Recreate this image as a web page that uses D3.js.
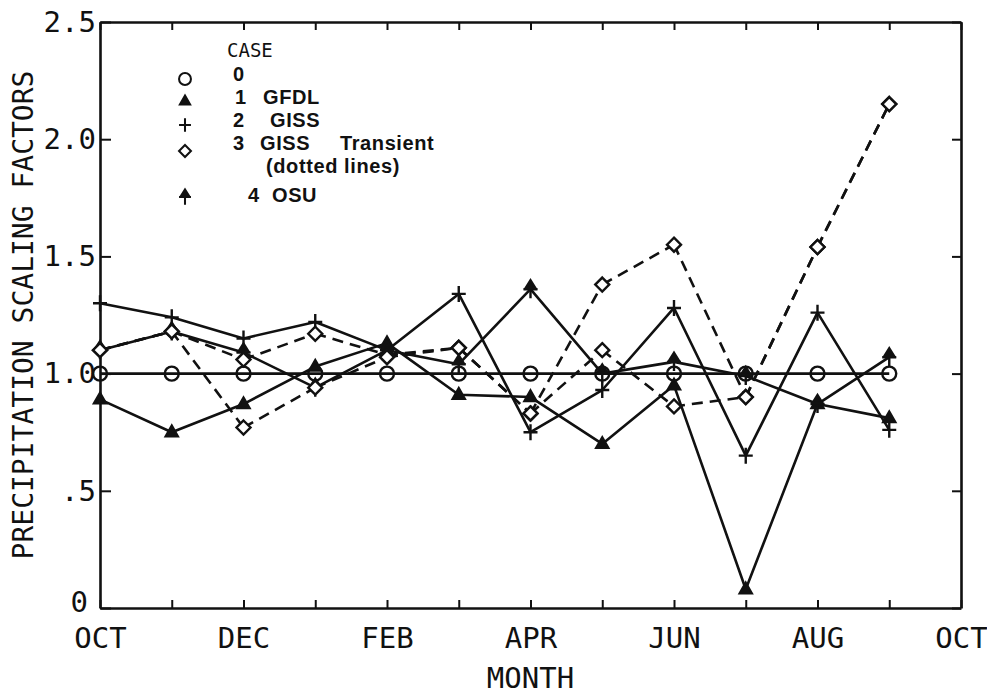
<!DOCTYPE html>
<html>
<head>
<meta charset="utf-8">
<script src="https://cdn.jsdelivr.net/npm/d3@7"></script>
<style>
  body { margin: 0; background: #fff; }
  svg { display: block; }
</style>
</head>
<body>
<svg id="chart" width="987" height="696"></svg>
<script>
// Month slots along the x axis (water year, October through September)
const months = ["OCT", "NOV", "DEC", "JAN", "FEB", "MAR", "APR", "MAY", "JUN", "JUL", "AUG", "SEP"];
const monthTickLabels = ["OCT", "DEC", "FEB", "APR", "JUN", "AUG", "OCT"];
const yTickValues = [0, 0.5, 1.0, 1.5, 2.0, 2.5];
const yTickLabels = ["0", ".5", "1.0", "1.5", "2.0", "2.5"];

// Monthly precipitation scaling factors by case
const case0Base     = [1.00, 1.00, 1.00, 1.00, 1.00, 1.00, 1.00, 1.00, 1.00, 1.00, 1.00, 1.00];
const case1Gfdl     = [0.89, 0.75, 0.87, 1.03, 1.13, 0.91, 0.90, 0.70, 0.95, 0.08, 0.87, 0.81];
const case2Giss     = [1.30, 1.24, 1.15, 1.22, 1.10, 1.34, 0.75, 0.93, 1.28, 0.65, 1.26, 0.76];
const case3TransA   = [1.10, 1.18, 0.77, 0.94, 1.07, 1.11, 0.83, 1.38, 1.55, 0.90, 1.54, 2.15];
const case3TransB   = [1.10, 1.18, 1.06, 1.17, 1.08, 1.11, 0.83, 1.10, 0.86, 0.90, 1.54, 2.15];
const case4Osu      = [1.10, 1.18, 1.09, 0.94, 1.10, 1.04, 1.36, 1.00, 1.05, 0.99, 0.87, 1.07];

const legendRows = [
  { num: "0", name: "",     marker: "circle" },
  { num: "1", name: "GFDL", marker: "triangle" },
  { num: "2", name: "GISS", marker: "plus" },
  { num: "3", name: "GISS", marker: "diamond" },
  { num: "4", name: "OSU",  marker: "osu" }
];

const series = [
  { values: case0Base,   marker: "circle",   dashed: false },
  { values: case1Gfdl,   marker: "triangle", dashed: false },
  { values: case2Giss,   marker: "plus",     dashed: false },
  { values: case4Osu,    marker: "osu",      dashed: false },
  { values: case3TransB, marker: "diamond",  dashed: true },
  { values: case3TransA, marker: "diamond",  dashed: true }
];

const svg = d3.select("#chart");
const plot = { left: 100, right: 961, top: 22, bottom: 608 };
const ink = "#111";
const monoFont = "'DejaVu Sans Mono', 'Liberation Mono', monospace";
const legendFont = "'Liberation Sans', Arial, sans-serif";

const x = d3.scaleLinear().domain([0, 12]).range([plot.left, plot.right]);
const y = d3.scaleLinear().domain([0, 2.5]).range([plot.bottom, plot.top]);

// ---- axes ----
function styleAxis(g) {
  g.select(".domain").attr("stroke", ink).attr("stroke-width", 2.6);
  g.selectAll(".tick line").attr("stroke", ink).attr("stroke-width", 2);
  g.selectAll(".tick text")
    .attr("fill", ink)
    .style("font-family", monoFont)
    .style("font-size", "29px");
}

svg.append("g")
  .attr("transform", `translate(0,${plot.bottom})`)
  .call(d3.axisBottom(x)
    .tickValues(d3.range(0, 13))
    .tickSizeInner(-8).tickSizeOuter(0).tickPadding(19)
    .tickFormat(d => d % 2 === 0 ? monthTickLabels[d / 2] : ""))
  .call(styleAxis);

svg.append("g")
  .attr("transform", `translate(0,${plot.top})`)
  .call(d3.axisTop(x)
    .tickValues(d3.range(0, 13))
    .tickSizeInner(-8).tickSizeOuter(0)
    .tickFormat(() => ""))
  .call(styleAxis);

const leftAxis = svg.append("g")
  .attr("transform", `translate(${plot.left},0)`)
  .call(d3.axisLeft(y)
    .tickValues(yTickValues)
    .tickSizeInner(-11).tickSizeOuter(0).tickPadding(4)
    .tickFormat((d, i) => yTickLabels[i]))
  .call(styleAxis);
// the zero label sits a little higher and further left, clear of the month labels
leftAxis.selectAll(".tick text")
  .filter(d => d === 0)
  .attr("x", -12)
  .attr("dy", "0.12em");

svg.append("g")
  .attr("transform", `translate(${plot.right},0)`)
  .call(d3.axisRight(y)
    .tickValues(yTickValues)
    .tickSizeInner(-9).tickSizeOuter(0)
    .tickFormat(() => ""))
  .call(styleAxis);

// axis titles
svg.append("text")
  .attr("x", (plot.left + plot.right) / 2)
  .attr("y", 688)
  .attr("text-anchor", "middle")
  .attr("fill", ink)
  .style("font-family", monoFont)
  .style("font-size", "29px")
  .text("MONTH");

svg.append("text")
  .attr("transform", `translate(33,${(plot.top + plot.bottom) / 2}) rotate(-90)`)
  .attr("text-anchor", "middle")
  .attr("fill", ink)
  .style("font-family", monoFont)
  .style("font-size", "28px")
  .text("PRECIPITATION SCALING FACTORS");

// ---- markers ----
function drawMarker(g, type, cx, cy, scale = 1) {
  const m = g.append("g").attr("transform", `translate(${cx},${cy}) scale(${scale})`)
    .attr("stroke", ink).attr("stroke-width", 2.4).attr("fill", "none");
  if (type === "circle") {
    m.append("circle").attr("r", 7);
  } else if (type === "triangle") {
    m.append("path").attr("d", "M0,-6.5 L6,4 L-6,4 Z").attr("fill", ink);
  } else if (type === "plus") {
    m.append("path").attr("d", "M-7,0 H7 M0,-8 V8");
  } else if (type === "diamond") {
    m.append("path").attr("d", "M0,-7 L7,0 L0,7 L-7,0 Z").attr("fill", "#fff");
  } else if (type === "osu") {
    m.append("path").attr("d", "M-7,0 H7 M0,-2 V9");
    m.append("path").attr("d", "M-5,-1 L5,-1 L0,-9 Z").attr("fill", ink);
  }
}

// ---- series lines ----
const line = d3.line()
  .x(d => x(d.i))
  .y(d => y(d.v));

const seriesG = svg.append("g");
series.forEach(s => {
  const pts = s.values.map((v, i) => ({ i, v }));
  if (s.dashed) {
    // one path per month-to-month segment, so shared segments dash in step
    d3.pairs(pts).forEach(seg => {
      seriesG.append("path")
        .datum(seg)
        .attr("d", line)
        .attr("fill", "none")
        .attr("stroke", ink)
        .attr("stroke-width", 2.6)
        .attr("stroke-dasharray", "11,7");
    });
  } else {
    seriesG.append("path")
      .datum(pts)
      .attr("d", line)
      .attr("fill", "none")
      .attr("stroke", ink)
      .attr("stroke-width", 2.6)
      .attr("stroke-linejoin", "round");
  }
});
series.forEach(s => {
  s.values.forEach((v, i) => drawMarker(seriesG, s.marker, x(i), y(v)));
});

// ---- legend ----
const legend = svg.append("g");
legend.append("text")
  .attr("x", 227).attr("y", 57)
  .attr("fill", ink)
  .style("font-family", monoFont)
  .style("font-size", "19px")
  .text("CASE");

const rowY = [81, 104, 127, 150, 202];
const markerY = [79, 101, 125, 151, 197];
const numX = [233, 235, 233, 233, 248];
const nameX = [0, 263, 270, 260, 272];

function legendText(tx, ty, str) {
  legend.append("text")
    .attr("x", tx).attr("y", ty)
    .attr("fill", ink)
    .style("font-family", legendFont)
    .style("font-weight", "bold")
    .style("font-size", "20px")
    .style("letter-spacing", "0.6px")
    .text(str);
}

legendRows.forEach((r, i) => {
  drawMarker(legend, r.marker, 185, markerY[i], 0.85);
  legendText(numX[i], rowY[i], r.num);
  if (r.name) legendText(nameX[i], rowY[i], r.name);
});
legendText(340, 150, "Transient");
legendText(266, 173, "(dotted lines)");
</script>
</body>
</html>
